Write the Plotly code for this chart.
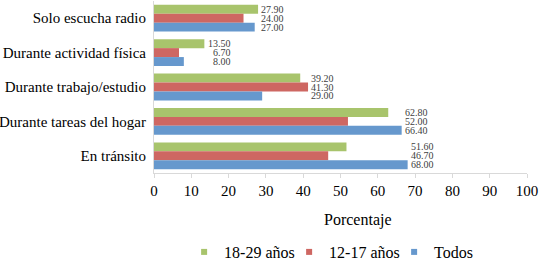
import plotly.graph_objects as go

categories = ["Solo escucha radio", "Durante actividad física", "Durante trabajo/estudio",
              "Durante tareas del hogar", "En tránsito"]
s_18_29 = [27.90, 13.50, 39.20, 62.80, 51.60]
s_12_17 = [24.00, 6.70, 41.30, 52.00, 46.70]
s_todos = [27.00, 8.00, 29.00, 66.40, 68.00]
series_names = ["18-29 años", "12-17 años", "Todos"]
x_ticks = [0, 10, 20, 30, 40, 50, 60, 70, 80, 90, 100]

colors = ["#A8C46C", "#CE6762", "#6698CD"]
FONT = "'Liberation Serif', 'DejaVu Serif', serif"

fig = go.Figure()
for name, vals, col in zip(series_names, [s_18_29, s_12_17, s_todos], colors):
    fig.add_trace(go.Bar(y=categories, x=vals, name=name, orientation="h",
                         marker=dict(color=col, line=dict(width=0)), showlegend=False))
# legend entries with small square swatches
for name, col in zip(series_names, colors):
    fig.add_trace(go.Scatter(x=[None], y=[None], mode="markers", name=name,
                             marker=dict(symbol="square", size=6, color=col),
                             showlegend=True))

# data labels: right-aligned beyond the longest bar of each group
n = len(series_names)
bar_w = 0.78 / n
annotations = []
for i, cat in enumerate(categories):
    group = [s_18_29[i], s_12_17[i], s_todos[i]]
    xpos = max(group) + 7.6
    for j, v in enumerate(group):
        off = (j - (n - 1) / 2) * bar_w
        annotations.append(dict(x=xpos, y=i + off, xref="x", yref="y",
                                text=f"{v:.2f}", showarrow=False, xanchor="right",
                                yanchor="middle",
                                font=dict(family=FONT, size=10, color="#404040")))

annotations.append(dict(x=0.548, y=-0.273, xref="paper", yref="paper", text="Porcentaje",
                        showarrow=False, xanchor="center", yanchor="middle",
                        font=dict(family=FONT, size=16, color="#000000")))

fig.update_layout(
    width=541, height=260,
    margin=dict(l=154, r=14, t=1, b=87),
    paper_bgcolor="white", plot_bgcolor="white",
    barmode="group", bargap=0.22, bargroupgap=0,
    font=dict(family=FONT, size=15, color="#000000"),
    showlegend=True,
    legend=dict(orientation="h", x=0.503, y=8 / 260, xref="paper", yref="container",
                xanchor="center", yanchor="middle",
                font=dict(family=FONT, size=16, color="#000000"),
                itemwidth=30, traceorder="normal",
                entrywidth=60, entrywidthmode="pixels"),
    annotations=annotations,
    xaxis=dict(range=[0, 100], tickvals=x_ticks, ticktext=[str(t) for t in x_ticks],
               showgrid=False, zeroline=False, showline=True, linecolor="#D9D9D9",
               linewidth=1, ticks="outside", ticklen=4, tickcolor="#D9D9D9",
               tickfont=dict(family=FONT, size=15, color="#000000"), fixedrange=True,
               automargin=False),
    yaxis=dict(categoryorder="array", categoryarray=categories, autorange="reversed",
               showgrid=False, zeroline=False, showline=True, linecolor="#D9D9D9",
               linewidth=1, ticks="", ticklabelstandoff=4, automargin=False,
               tickfont=dict(family=FONT, size=15, color="#000000"), fixedrange=True),
)

fig.write_html("out.html", config={"displayModeBar": False},
               post_script="document.body.style.margin='0';document.body.style.padding='0';")
